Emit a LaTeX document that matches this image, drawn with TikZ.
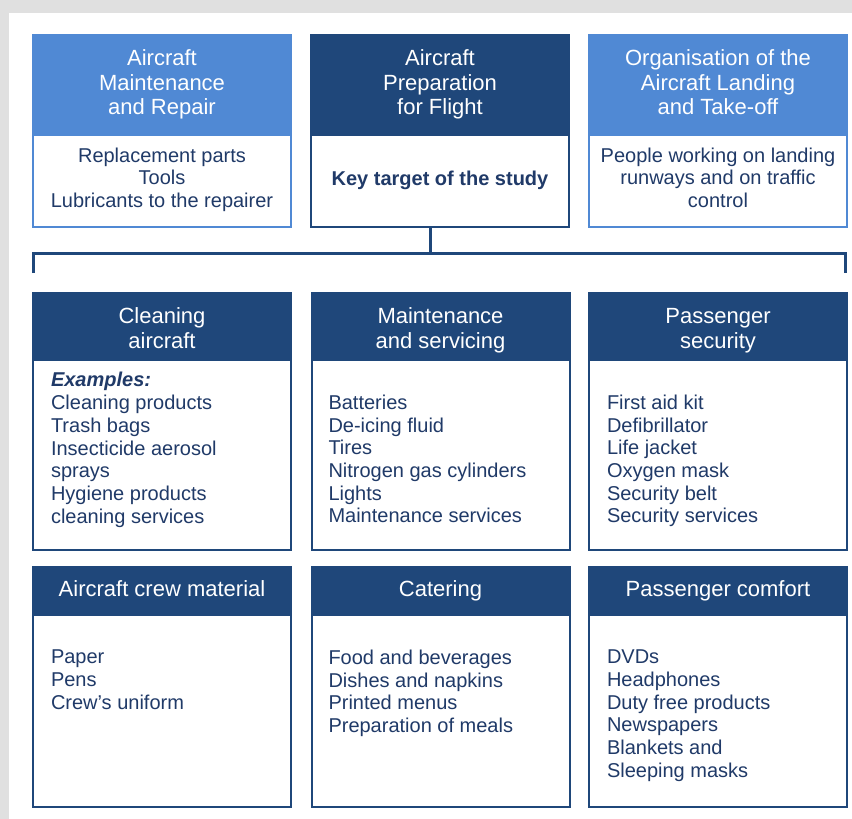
\documentclass[tikz,border=0pt]{standalone}
\usepackage{fontspec}
\setmainfont{Liberation Sans}
\usetikzlibrary{positioning}
\definecolor{lightblue}{RGB}{80,137,212}
\definecolor{navy}{RGB}{31,71,122}
\definecolor{inknavy}{RGB}{32,58,104}
\definecolor{greybg}{RGB}{224,224,224}
\newcommand{\headstrut}{\rule[-5.9pt]{0pt}{18.6pt}}
\newcommand{\dropstrut}{\rule{0pt}{25pt}}

\begin{document}
\begin{tikzpicture}[x=1pt,y=-1pt,
	head/.style={draw=#1,fill=#1,line width=2pt,text=white,align=center,minimum width=258pt,inner sep=0pt,outer sep=0pt,font=\fontsize{22}{24.5}\selectfont,
		execute at begin node=\headstrut,execute at end node=\headstrut},
	head/.default=navy,
	body/.style={draw=#1,fill=white,line width=2pt,text=inknavy,align=center,minimum width=258pt,inner sep=0pt,outer sep=0pt,font=\fontsize{20}{22.7}\selectfont,
		execute at begin node=\strut,execute at end node=\strut},
	body/.default=navy,
	list/.style={text=inknavy,align=left,inner sep=0pt,outer sep=0pt,font=\fontsize{20}{22.7}\selectfont},
	bus/.style={draw=navy,line width=3pt}]
\useasboundingbox (0,0) rectangle (852,819);
\fill[greybg] (0,0) rectangle (852,819);
\fill[white] (9,13) rectangle (852,819);

% suppliers row
\node[head=lightblue,minimum height=100pt] (maintH) at (162,85) {Aircraft\\Maintenance\\and Repair};
\node[body=lightblue,minimum height=92pt,below=0pt of maintH] (maintB) {Replacement parts\\Tools\\Lubricants to the repairer};
\node[head,minimum height=100pt] (prepH) at (440,85) {Aircraft\\Preparation\\for Flight};
\node[body,minimum height=92pt,below=0pt of prepH] (prepB) {\textbf{Key target of the study}};
\node[head=lightblue,minimum height=100pt] (landH) at (718,85) {Organisation of the\\Aircraft Landing\\and Take-off};
\node[body=lightblue,minimum height=92pt,below=0pt of landH] (landB) {People working on landing\\runways and on traffic\\control};

% bus
\coordinate (stem) at (430,253);
\coordinate (busL) at (33,253);
\coordinate (busR) at (845,253);
\coordinate (legL) at (33,273);
\coordinate (legR) at (845,273);
\draw[bus] (stem |- prepB.south) -- (stem);
\draw[bus] (legL) -- (busL) -- (busR) -- (legR);

% middle row
\node[head,minimum height=67pt] (cleanH) at (162,326.5) {\dropstrut Cleaning\\aircraft};
\node[body,minimum height=190pt,below=0pt of cleanH] (cleanB) {};
\node[list,below right=12.5pt and 18pt of cleanB.north west] (cleanL) {\textbf{\textit{Examples:}}\\Cleaning products\\Trash bags\\Insecticide aerosol\\sprays\\Hygiene products\\cleaning services};
\node[head,minimum height=67pt] (servH) at (440.5,326.5) {\dropstrut Maintenance\\and servicing};
\node[body,minimum height=190pt,below=0pt of servH] (servB) {};
\node[list,below right=35pt and 17pt of servB.north west] (servL) {Batteries\\De-icing fluid\\Tires\\Nitrogen gas cylinders\\Lights\\Maintenance services};
\node[head,minimum height=67pt] (secH) at (718,326.5) {\dropstrut Passenger\\security};
\node[body,minimum height=190pt,below=0pt of secH] (secB) {};
\node[list,below right=35pt and 18pt of secB.north west] (secL) {First aid kit\\Defibrillator\\Life jacket\\Oxygen mask\\Security belt\\Security services};

% bottom row
\node[head,minimum height=48pt] (crewH) at (162,591) {Aircraft crew material};
\node[body,minimum height=192pt,below=0pt of crewH] (crewB) {};
\node[list,below right=35pt and 18pt of crewB.north west] (crewL) {Paper\\Pens\\Crew’s uniform};
\node[head,minimum height=48pt] (cateH) at (440.5,591) {Catering};
\node[body,minimum height=192pt,below=0pt of cateH] (cateB) {};
\node[list,below right=35pt and 17pt of cateB.north west] (cateL) {Food and beverages\\Dishes and napkins\\Printed menus\\Preparation of meals};
\node[head,minimum height=48pt] (comfH) at (718,591) {Passenger comfort};
\node[body,minimum height=192pt,below=0pt of comfH] (comfB) {};
\node[list,below right=35pt and 18pt of comfB.north west] (comfL) {DVDs\\Headphones\\Duty free products\\Newspapers\\Blankets and\\Sleeping masks};
\end{tikzpicture}
\end{document}
